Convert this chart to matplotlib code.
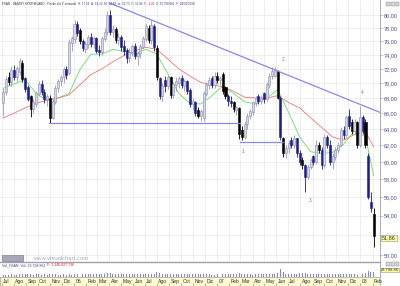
import numpy as np
import pandas as pd
import matplotlib
matplotlib.use('Agg')
import matplotlib.pyplot as plt
import matplotlib.dates as mdates
from matplotlib.patches import Rectangle
from matplotlib.ticker import FuncFormatter, NullLocator

plt.rcParams['font.family'] = ['Liberation Sans', 'DejaVu Sans']

# --- weekly candles FSAN (Sanofi), Jul 2005 - Feb 2008 ---
weeks = pd.date_range('2005-07-04', periods=136, freq='7D')

opens = [67.3, 68.8, 70.8, 70.2, 71.8, 70.8, 71.6, 72.8, 70.6, 69.4, 68.2, 66.6, 67.2,
         68.6, 69.8, 68.8, 67.8, 68.0, 65.4, 67.5, 69.3, 70.3, 70.8, 71.9, 71.4, 75.8,
         76.4, 78.6, 77.6, 76.0, 74.8, 75.6, 76.6, 75.6, 76.4, 74.6, 74.4, 76.4, 77.4,
         80.0, 77.4, 77.8, 76.2, 76.6, 75.2, 74.6, 73.6, 74.4, 75.2, 73.8, 74.2, 75.2,
         76.4, 78.0, 76.2, 78.2, 75.0, 70.6, 68.2, 70.4, 69.6, 70.8, 68.4, 69.8, 70.0,
         70.6, 69.6, 70.2, 69.0, 67.2, 67.4, 66.4, 65.6, 65.4, 68.6, 69.8, 70.6, 69.8,
         71.0, 70.4, 71.2, 69.4, 68.2, 67.6, 67.4, 66.4, 66.6, 63.8, 63.0, 64.6, 65.6,
         66.2, 67.4, 68.2, 67.6, 68.6, 67.8, 69.8, 71.0, 71.0, 71.6, 68.0, 62.8, 61.0,
         61.6, 62.6, 62.0, 62.8, 61.0, 60.2, 59.6, 58.2, 59.4, 60.6, 60.0, 62.0, 61.4,
         59.6, 63.0, 62.0, 60.0, 60.6, 61.4, 62.0, 63.8, 63.2, 65.6, 64.8, 63.8, 64.8,
         62.0, 65.4, 64.8, 60.6, 55.4, 54.10]
highs = [69.4, 71.0, 71.5, 72.4, 72.6, 72.4, 73.6, 73.2, 70.9, 69.8, 68.4, 67.8, 69.0,
         70.3, 70.4, 69.2, 68.6, 68.4, 67.9, 69.8, 70.6, 71.2, 72.3, 72.4, 76.4, 76.8,
         79.2, 79.0, 78.0, 76.3, 76.0, 77.0, 77.2, 76.8, 76.6, 75.4, 76.8, 78.0, 80.6,
         80.8, 78.4, 78.2, 77.2, 77.0, 76.2, 75.0, 75.0, 75.6, 75.8, 74.6, 75.6, 76.8,
         78.8, 78.4, 79.2, 78.6, 75.4, 70.8, 70.0, 71.0, 71.2, 71.0, 70.2, 70.8, 71.0,
         71.2, 70.6, 70.4, 69.4, 68.0, 67.6, 66.8, 66.6, 69.0, 70.2, 70.8, 71.0, 71.6,
         71.6, 71.0, 71.6, 69.6, 68.6, 68.2, 67.6, 67.0, 66.8, 64.4, 65.0, 66.0, 66.6,
         67.6, 68.2, 68.6, 68.4, 68.8, 70.2, 71.4, 72.2, 72.2, 71.8, 68.2, 63.0, 62.0,
         62.6, 63.0, 63.2, 62.9, 61.4, 60.6, 59.8, 59.8, 60.4, 60.8, 62.6, 62.4, 61.8,
         63.4, 63.2, 62.6, 61.0, 61.8, 62.4, 64.2, 64.4, 65.8, 66.6, 65.2, 65.2, 65.0,
         66.9, 65.8, 65.2, 61.0, 56.6, 54.83]
lows = [65.6, 68.4, 69.8, 69.6, 70.4, 70.3, 71.2, 70.2, 68.8, 67.6, 65.5, 66.0, 66.8,
        68.2, 68.4, 67.3, 67.0, 64.8, 65.2, 67.2, 68.8, 69.6, 70.0, 70.6, 71.2, 74.6,
        75.8, 76.8, 75.6, 74.6, 74.2, 75.0, 75.2, 75.0, 74.2, 73.8, 74.0, 76.0, 77.0,
        77.0, 76.6, 75.8, 75.4, 74.6, 74.0, 72.8, 73.0, 73.8, 73.4, 72.6, 73.6, 74.8,
        76.0, 75.8, 75.6, 74.6, 70.4, 67.8, 67.6, 68.8, 69.2, 68.0, 68.0, 69.0, 69.4,
        69.4, 69.0, 68.6, 66.8, 66.4, 65.6, 65.4, 65.0, 65.0, 68.2, 69.2, 69.4, 69.4,
        70.0, 69.8, 68.6, 67.8, 67.0, 66.8, 66.2, 65.8, 62.8, 62.6, 62.8, 64.0, 65.2,
        65.8, 67.0, 67.2, 67.2, 67.4, 67.6, 69.4, 70.6, 70.8, 67.8, 62.6, 60.6, 60.4,
        61.0, 61.6, 61.6, 60.6, 59.6, 59.2, 56.6, 58.0, 59.2, 59.6, 59.8, 61.0, 59.2,
        59.4, 61.6, 59.6, 59.2, 60.2, 61.0, 61.8, 62.8, 63.0, 64.0, 63.4, 63.4, 61.6,
        61.8, 63.4, 61.6, 55.8, 54.4, 50.73]
closes = [68.8, 70.5, 70.2, 71.8, 70.8, 72.0, 73.0, 70.6, 69.2, 67.9, 66.6, 67.4, 68.6,
          69.8, 68.8, 67.8, 68.2, 65.4, 67.5, 69.3, 70.3, 70.8, 71.9, 71.2, 75.8, 76.4,
          78.6, 77.2, 76.0, 75.0, 75.6, 76.6, 75.6, 76.4, 74.6, 74.4, 76.4, 77.4, 80.0,
          77.4, 77.8, 76.2, 76.6, 75.2, 74.6, 73.6, 74.4, 75.2, 73.8, 74.2, 75.2, 76.4,
          78.2, 76.2, 78.4, 75.2, 70.8, 68.2, 69.6, 69.6, 70.8, 68.4, 69.8, 70.2, 70.6,
          69.8, 70.2, 69.0, 67.2, 67.6, 66.0, 65.6, 66.2, 68.6, 69.8, 70.4, 69.8, 71.0,
          70.4, 70.6, 69.0, 68.2, 67.6, 67.4, 66.6, 66.8, 63.4, 63.0, 64.6, 65.6, 66.2,
          67.4, 68.0, 67.6, 68.0, 67.8, 69.8, 71.0, 71.6, 71.8, 68.0, 63.0, 61.0, 61.6,
          62.2, 62.0, 62.8, 61.0, 60.0, 59.6, 58.2, 59.4, 60.2, 60.0, 62.0, 61.4, 59.6,
          63.0, 62.0, 60.0, 60.6, 61.4, 62.0, 63.8, 63.2, 65.4, 64.4, 63.8, 64.8, 62.0,
          65.4, 63.8, 62.0, 56.0, 54.8, 51.86]
volumes = [14, 15, 13, 16, 14, 13, 17, 18, 16, 19, 18, 15, 16,
           17, 15, 16, 14, 19, 17, 16, 15, 14, 16, 15, 21, 12,
           20, 22, 19, 18, 17, 20, 18, 16, 19, 17, 18, 21, 28,
           24, 19, 18, 17, 20, 18, 22, 19, 17, 21, 18, 17, 19,
           18, 17, 20, 19, 30, 26, 22, 18, 17, 19, 17, 18, 16,
           17, 16, 18, 19, 17, 18, 16, 17, 22, 18, 16, 15, 12,
           17, 16, 18, 19, 17, 16, 18, 17, 24, 22, 19, 17, 16,
           15, 16, 17, 16, 18, 19, 20, 19, 18, 24, 53, 30, 22,
           20, 19, 21, 22, 24, 23, 28, 20, 19, 18, 20, 19, 21,
           20, 18, 21, 19, 18, 17, 20, 19, 18, 21, 19, 18, 14,
           20, 22, 25, 36, 30, 33.8]  # millions
black_weeks = [2, 7, 10, 17, 28, 41, 53, 56, 61, 71, 78, 80, 81, 84, 86, 87,
               100, 102, 109, 115, 127, 129, 132, 135]

# moving averages (every 4th week + last week)
ma_weeks = list(range(0, 136, 4)) + [135]
ma_fast = [69.3, 69.9, 70.5, 68.6, 67.7, 68.0, 68.6, 71.9, 74.1, 74.1, 74.8, 74.5,
           74.1, 74.8, 74.1, 71.3, 68.6, 67.3, 67.2, 68.3, 69.6, 68.6, 67.5, 67.2,
           68.0, 69.1, 66.1, 63.0, 61.2, 61.0, 61.1, 62.1, 63.8, 63.0, 58.4]
ma_slow = [65.4, 66.0, 66.7, 67.3, 67.7, 68.0, 68.4, 69.8, 71.2, 72.0, 73.0, 73.9,
           74.6, 75.1, 74.8, 73.4, 72.0, 71.0, 70.1, 69.8, 69.5, 68.9, 68.1, 68.0,
           68.0, 68.3, 67.4, 66.7, 65.4, 64.2, 63.0, 62.6, 63.3, 63.6, 61.8]

# drawn lines and wave counts
down_dates, down_prices = ['2006-04-02', '2008-02-20'], [81.9, 66.1]
sup1_dates, sup1_prices = ['2005-10-29', '2007-02-28'], [64.7, 64.7]
sup2_dates, sup2_prices = ['2007-02-28', '2007-06-18'], [62.4, 62.4]
wave_labels = ['1', '2', '3', '4']
wave_dates = ['2007-03-08', '2007-06-18', '2007-08-26', '2008-01-05']
wave_prices = [61.2, 73.4, 55.6, 68.7]

price_ticks = [50, 52, 54, 56, 58, 60, 62, 64, 66, 68, 70, 72, 74, 76, 78, 80]
last_close_label = '51,86'
month_starts = pd.date_range('2005-07-01', '2008-02-01', freq='MS')
month_labels = ['Jul', 'Ago', 'Sep', 'Oct', 'Nov', 'Dic', '06', 'Feb', 'Mar', 'Abr',
                'May', 'Jun', 'Jul', 'Ago', 'Sep', 'Oct', 'Nov', 'Dic', '07', 'Feb',
                'Mar', 'Abr', 'May', 'Jun', 'Jul', 'Ago', 'Sep', 'Oct', 'Nov', 'Dic',
                '08', 'Feb']

W, H = 400.0, 286.0
fig = plt.figure(figsize=(W / 100, H / 100), dpi=100)


def px_rect(x0, y0, x1, y1):
    return [x0 / W, 1 - y1 / H, (x1 - x0) / W, (y1 - y0) / H]


ax = fig.add_axes(px_rect(0, 0, 380, 261))
axv = fig.add_axes(px_rect(0, 262, 380, 277), sharex=ax)
axd = fig.add_axes(px_rect(0, 277, 380, 286), sharex=ax)

x = mdates.date2num(weeks)
o, h, l, c = (np.array(a) for a in (opens, highs, lows, closes))
up = c >= o
down_col = np.array(['#1c1c8a'] * len(x), dtype=object)
down_col[black_weeks] = '#000000'
face = np.where(up, '#d6d6de', down_col)
edge = np.where(up, '#8a8ab8', down_col)
wick = np.where(up, '#9a9ab8', down_col)

ax.vlines(x, l, h, colors=wick, lw=0.6, zorder=3)
ax.bar(x, np.abs(c - o) + 0.05, bottom=np.minimum(o, c), width=5.2,
       color=face, edgecolor=edge, lw=0.4, zorder=4)

xm = x[ma_weeks]
ax.plot(xm, ma_fast, color='#66dd66', lw=0.6, zorder=2)
ax.plot(xm, ma_slow, color='#ee7777', lw=0.6, zorder=2)

ax.plot(pd.to_datetime(down_dates), down_prices, color='#8888ee', lw=0.9, zorder=5)
ax.plot(pd.to_datetime(sup1_dates), sup1_prices, color='#8888ee', lw=0.9, zorder=5)
ax.plot(pd.to_datetime(sup2_dates), sup2_prices, color='#8888ee', lw=0.9, zorder=5)
for s, d, p in zip(wave_labels, pd.to_datetime(wave_dates), wave_prices):
    ax.text(d, p, s, color='#44aa44', fontsize=3.5, ha='center', va='center')

ax.set_yscale('log')
ax.set_ylim(49.4, 82.4)
ax.set_xlim(pd.Timestamp('2005-06-26'), pd.Timestamp('2008-02-20'))
ax.yaxis.set_minor_locator(NullLocator())
ax.set_yticks(price_ticks)
# the 52,00 label sits under the last-close box, so leave it blank
ax.yaxis.set_major_formatter(FuncFormatter(
    lambda v, _: '' if abs(v - 52) < 0.01 else f'{v:.2f}'.replace('.', ',')))
ax.yaxis.tick_right()
ax.tick_params(axis='y', labelsize=4, colors='#9a9ab0', labelcolor='#4a4a9a',
               length=2, width=0.4, pad=1)
ax.set_xticks(month_starts)
ax.tick_params(axis='x', length=0, labelbottom=False)
ax.grid(True, color='#e8e8e8', lw=0.5)
for side in ['left', 'top', 'bottom']:
    ax.spines[side].set_visible(False)
ax.spines['right'].set_color('#a0a0a0')
ax.spines['right'].set_linewidth(0.6)

# volume panel
axv.bar(x, volumes, width=2.5, color='#8080f0', lw=0)
axv.set_ylim(0, 95)
axv.set_yticks([])
axv.tick_params(axis='x', length=0, labelbottom=False)
for side in ['left', 'bottom']:
    axv.spines[side].set_visible(False)
axv.spines['top'].set_color('#a0a0a0')
axv.spines['right'].set_color('#a0a0a0')
axv.spines['top'].set_linewidth(1.0)
axv.spines['right'].set_linewidth(0.6)

# date strip
axd.set_facecolor('#fdfbcf')
axd.set_yticks([])
axd.set_ylim(0, 1)
axd.tick_params(axis='x', direction='in', length=2, width=0.4, color='#808080',
                labelbottom=False)
for d, s in zip(month_starts, month_labels):
    axd.text(d + pd.Timedelta(days=3), 0.45, s, fontsize=3.6, color='#303030',
             ha='left', va='center')
for side in axd.spines.values():
    side.set_color('#a0a0a0')
    side.set_linewidth(0.5)

# header text
renderer = fig.canvas.get_renderer()


def text_run(x0, y0, pieces, size):
    for s, col in pieces:
        t = fig.text(x0 / W, 1 - y0 / H, s, color=col, fontsize=size,
                     ha='left', va='center')
        x0 += t.get_window_extent(renderer=renderer).width + 1.5


text_run(2, 4, [('FSAN - SANOFI SYNTHELABO - Fin de día Y semanal', '#303030'),
                ('H: 17,56  A: 54,10  M: 54,83  m: 50,73  C: 51,86', '#3a3aa8'),
                ('F: -2,81', '#dd2222'),
                ('V: 33.798.861  F: 04/02/2008', '#3a3aa8')], 2.2)
text_run(2, 265, [('Vol_FSAN  Vol: 33.798.861', '#3a3aa8'),
                  ('F: 1.346.827.736', '#dd2222')], 2.6)

# watermark
fig.patches.append(Rectangle((2 / W, 1 - 261 / H), 21 / W, 6 / H,
                             transform=fig.transFigure, facecolor='#a4a8b8',
                             edgecolor='#707080', lw=0.4))
fig.text(33 / W, 1 - 258 / H, 'www.visualchart.com', fontsize=4.2,
         color='#a8a8c0', ha='left', va='center')

# right side value boxes
fig.text(382 / W, 1 - 238 / H, last_close_label, fontsize=4, color='#303030',
         ha='left', va='center', zorder=10,
         bbox=dict(boxstyle='square,pad=0.15', fc='#ffff99', ec='#909090', lw=0.4))
fig.text(381 / W, 1 - 270 / H, '33.798.86', fontsize=2.9, color='#303030',
         ha='left', va='center',
         bbox=dict(boxstyle='square,pad=0.1', fc='#ffff99', ec='#909090', lw=0.4))
for bx in [386, 391, 395.5]:
    fig.patches.append(Rectangle((bx / W, 1 - 6 / H), 3.5 / W, 4 / H,
                                 transform=fig.transFigure, facecolor='#d8d8d8',
                                 edgecolor='#808080', lw=0.3))
    fig.patches.append(Rectangle((bx / W, 1 - 266 / H), 3.5 / W, 4 / H,
                                 transform=fig.transFigure, facecolor='#d8d8d8',
                                 edgecolor='#808080', lw=0.3))

fig.savefig('out.png', dpi=100)
